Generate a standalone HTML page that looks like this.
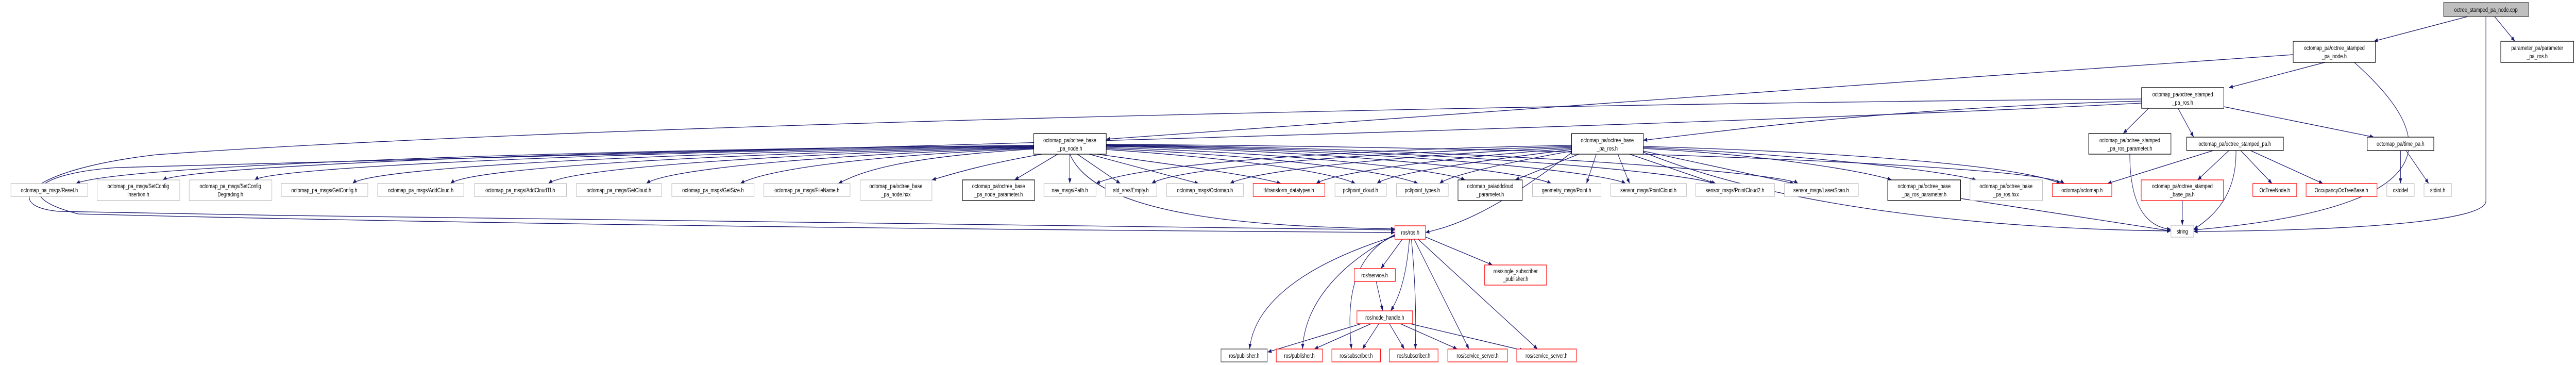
<!DOCTYPE html>
<html><head><meta charset="utf-8"><style>
html,body{margin:0;padding:0;background:#fff;width:100%;height:100%;overflow:hidden;}
svg{display:block;width:100vw;height:100vh;}
text{font-family:"Liberation Sans",sans-serif;font-size:12px;fill:#000;text-anchor:middle;}
.e{fill:none;stroke:#191970;stroke-width:1.3;marker-end:url(#a);}
.g{fill:#fff;stroke:#bfbfbf;stroke-width:1.3;}
.b{fill:#fff;stroke:#000;stroke-width:1.3;}
.r{fill:#fff;stroke:#ff0000;stroke-width:1.3;}
.d{fill:#fff;stroke:#404040;stroke-width:1.3;}
</style></head><body>
<svg viewBox="0 0 6576 708" preserveAspectRatio="none" xmlns="http://www.w3.org/2000/svg" overflow="hidden">
<defs><marker id="a" markerUnits="userSpaceOnUse" markerWidth="10" markerHeight="8" refX="10" refY="4" orient="auto"><path d="M0,0 L10,4 L0,8 z" fill="#191970"/></marker></defs>

<g>
<path class="e" d="M6300 32 L6060 80"/>
<path class="e" d="M6368 32 L6420 80"/>
<path class="e" d="M6346 32 L6346 390 C6346 430 6000 447 5600 449"/>
<path class="e" d="M5935 121 L5690 170"/>
<path class="e" d="M6010 121 C6200 250 6300 400 5600 446"/>
<path class="e" d="M5854 106 C4800 160 3600 230 2824 270"/>
<path class="e" d="M5485 210 L5420 259"/>
<path class="e" d="M5560 210 L5600 266"/>
<path class="e" d="M5677 207 L6060 266"/>
<path class="e" d="M5467 196 C4800 210 4400 255 4195 272"/>
<path class="e" d="M5467 192 C4000 200 1500 240 400 300 C60 330 5 400 150 410 C1500 430 3000 442 3561 446"/>
<path class="e" d="M5467 200 C4200 250 1500 300 300 325 C100 335 20 380 200 415 C1500 440 3000 448 3561 451"/>
<path class="e" d="M2639 282 C1500 290 300 320 194 356"/>
<path class="e" d="M2639 282 C1600 290 500 320 415 349"/>
<path class="e" d="M2639 283 C1700 292 700 322 650 349"/>
<path class="e" d="M2639 284 C1800 294 950 322 900 356"/>
<path class="e" d="M2639 285 C1900 296 1200 324 1150 356"/>
<path class="e" d="M2639 286 C2000 298 1450 326 1400 356"/>
<path class="e" d="M2639 287 C2100 300 1700 328 1650 356"/>
<path class="e" d="M2639 288 C2200 302 1950 330 1890 356"/>
<path class="e" d="M2639 289 C2300 305 2200 332 2140 356"/>
<path class="e" d="M2660 299 C2500 320 2420 340 2379 349"/>
<path class="e" d="M2700 299 L2590 349"/>
<path class="e" d="M2731 299 L2731 356"/>
<path class="e" d="M2750 299 L2860 356"/>
<path class="e" d="M2780 299 L3060 356"/>
<path class="e" d="M2800 299 C3000 320 3200 340 3270 356"/>
<path class="e" d="M2824 290 C3200 310 3400 335 3460 356"/>
<path class="e" d="M2824 288 C3300 305 3550 335 3620 356"/>
<path class="e" d="M2824 286 C3400 300 3700 335 3740 349"/>
<path class="e" d="M2824 284 C3500 295 3900 335 3960 356"/>
<path class="e" d="M2824 283 C3600 292 4100 335 4150 356"/>
<path class="e" d="M2824 282 C3700 290 4300 335 4375 356"/>
<path class="e" d="M2824 281 C3800 288 4550 335 4590 356"/>
<path class="e" d="M2824 280 C4000 285 5200 320 5270 356"/>
<path class="e" d="M2731 299 C2800 420 3200 440 3561 444"/>
<path class="e" d="M4012 282 C3400 290 2900 320 2798 356"/>
<path class="e" d="M4012 284 C3500 295 3000 325 2940 356"/>
<path class="e" d="M4012 286 C3600 300 3200 330 3140 356"/>
<path class="e" d="M4012 288 C3700 305 3400 335 3360 356"/>
<path class="e" d="M4012 290 C3800 310 3550 335 3515 356"/>
<path class="e" d="M4012 293 C3850 315 3700 340 3675 356"/>
<path class="e" d="M4030 299 L3868 349"/>
<path class="e" d="M4075 299 L4050 356"/>
<path class="e" d="M4130 299 L4160 356"/>
<path class="e" d="M4160 299 L4380 356"/>
<path class="e" d="M4195 293 L4580 356"/>
<path class="e" d="M4195 288 C4500 300 4750 330 4829 349"/>
<path class="e" d="M4195 286 C4600 300 4950 330 5045 349"/>
<path class="e" d="M4195 284 C4700 295 5150 320 5260 356"/>
<path class="e" d="M4012 296 C3800 420 3700 440 3639 451"/>
<path class="e" d="M4195 295 C4600 420 5200 445 5542 448"/>
<path class="e" d="M5005 385 L5542 448"/>
<path class="e" d="M5437 299 C5437 400 5480 440 5542 445"/>
<path class="e" d="M5650 292 L5380 356"/>
<path class="e" d="M5690 292 L5610 349"/>
<path class="e" d="M5708 292 C5710 380 5650 420 5600 445"/>
<path class="e" d="M5720 292 L5800 356"/>
<path class="e" d="M5745 292 L5930 356"/>
<path class="e" d="M5571 389 L5571 437"/>
<path class="e" d="M6128 292 L6128 356"/>
<path class="e" d="M6142 292 L6200 356"/>
<path class="e" d="M3580 464 L3525 521"/>
<path class="e" d="M3640 460 L3810 514"/>
<path class="e" d="M3598 464 C3590 540 3570 580 3550 603"/>
<path class="e" d="M3561 458 C3300 520 3200 600 3190 677"/>
<path class="e" d="M3561 456 C3400 520 3330 600 3325 677"/>
<path class="e" d="M3561 455 C3440 500 3440 600 3450 677"/>
<path class="e" d="M3603 464 C3615 560 3615 630 3613 677"/>
<path class="e" d="M3610 464 L3750 677"/>
<path class="e" d="M3620 464 L3925 677"/>
<path class="e" d="M3513 546 L3530 603"/>
<path class="e" d="M3475 628 L3236 683"/>
<path class="e" d="M3500 628 L3355 677"/>
<path class="e" d="M3520 628 L3478 677"/>
<path class="e" d="M3547 628 L3585 677"/>
<path class="e" d="M3575 628 L3720 677"/>
<path class="e" d="M3600 628 L3890 680"/>
</g>

<g>
<rect x="6238" y="5" width="217" height="27" fill="#bfbfbf" stroke="#404040" stroke-width="1.3"/><text x="6346" y="23">octree_stamped_pa_node.cpp</text>
<rect class="b" x="5854" y="80" width="210" height="41"/><text x="5959" y="97">octomap_pa/octree_stamped</text><text x="5959" y="113">_pa_node.h</text>
<rect class="b" x="6384" y="80" width="186" height="41"/><text x="6477" y="97">parameter_pa/parameter</text><text x="6477" y="113">_pa_ros.h</text>
<rect class="b" x="5467" y="170" width="210" height="40"/><text x="5572" y="187">octomap_pa/octree_stamped</text><text x="5572" y="203">_pa_ros.h</text>
<rect class="b" x="2639" y="259" width="185" height="40"/><text x="2731" y="276">octomap_pa/octree_base</text><text x="2731" y="292">_pa_node.h</text>
<rect class="b" x="4012" y="259" width="183" height="40"/><text x="4103" y="276">octomap_pa/octree_base</text><text x="4103" y="292">_pa_ros.h</text>
<rect class="b" x="5332" y="259" width="210" height="40"/><text x="5437" y="276">octomap_pa/octree_stamped</text><text x="5437" y="292">_pa_ros_parameter.h</text>
<rect class="b" x="5582" y="266" width="247" height="26"/><text x="5705" y="283">octomap_pa/octree_stamped_pa.h</text>
<rect class="b" x="6043" y="266" width="170" height="26"/><text x="6128" y="283">octomap_pa/time_pa.h</text>

<rect class="g" x="28" y="356" width="196" height="25"/><text x="126" y="373">octomap_pa_msgs/Reset.h</text>
<rect class="g" x="248" y="349" width="211" height="40"/><text x="353" y="365">octomap_pa_msgs/SetConfig</text><text x="353" y="381">Insertion.h</text>
<rect class="g" x="483" y="349" width="211" height="40"/><text x="588" y="365">octomap_pa_msgs/SetConfig</text><text x="588" y="381">Degrading.h</text>
<rect class="g" x="718" y="356" width="221" height="25"/><text x="828" y="373">octomap_pa_msgs/GetConfig.h</text>
<rect class="g" x="964" y="356" width="220" height="25"/><text x="1074" y="373">octomap_pa_msgs/AddCloud.h</text>
<rect class="g" x="1211" y="356" width="235" height="25"/><text x="1328" y="373">octomap_pa_msgs/AddCloudTf.h</text>
<rect class="g" x="1471" y="356" width="218" height="25"/><text x="1580" y="373">octomap_pa_msgs/GetCloud.h</text>
<rect class="g" x="1715" y="356" width="210" height="25"/><text x="1820" y="373">octomap_pa_msgs/GetSize.h</text>
<rect class="g" x="1950" y="356" width="220" height="25"/><text x="2060" y="373">octomap_pa_msgs/FileName.h</text>
<rect class="g" x="2196" y="349" width="183" height="40"/><text x="2287" y="365">octomap_pa/octree_base</text><text x="2287" y="381">_pa_node.hxx</text>
<rect class="b" x="2457" y="349" width="184" height="40"/><text x="2549" y="365">octomap_pa/octree_base</text><text x="2549" y="381">_pa_node_parameter.h</text>
<rect class="g" x="2665" y="356" width="133" height="25"/><text x="2731" y="373">nav_msgs/Path.h</text>
<rect class="g" x="2822" y="356" width="131" height="25"/><text x="2887" y="373">std_srvs/Empty.h</text>
<rect class="g" x="2978" y="356" width="196" height="25"/><text x="3076" y="373">octomap_msgs/Octomap.h</text>
<rect class="r" x="3199" y="356" width="183" height="25"/><text x="3290" y="373">tf/transform_datatypes.h</text>
<rect class="g" x="3408" y="356" width="131" height="25"/><text x="3473" y="373">pcl/point_cloud.h</text>
<rect class="g" x="3565" y="356" width="132" height="25"/><text x="3631" y="373">pcl/point_types.h</text>
<rect class="b" x="3722" y="349" width="164" height="40"/><text x="3804" y="365">octomap_pa/addcloud</text><text x="3804" y="381">_parameter.h</text>
<rect class="g" x="3912" y="356" width="175" height="25"/><text x="3999" y="373">geometry_msgs/Point.h</text>
<rect class="g" x="4112" y="356" width="193" height="25"/><text x="4208" y="373">sensor_msgs/PointCloud.h</text>
<rect class="g" x="4329" y="356" width="201" height="25"/><text x="4429" y="373">sensor_msgs/PointCloud2.h</text>
<rect class="g" x="4555" y="356" width="189" height="25"/><text x="4649" y="373">sensor_msgs/LaserScan.h</text>
<rect class="b" x="4819" y="349" width="186" height="40"/><text x="4912" y="365">octomap_pa/octree_base</text><text x="4912" y="381">_pa_ros_parameter.h</text>
<rect class="g" x="5029" y="349" width="185" height="40"/><text x="5121" y="365">octomap_pa/octree_base</text><text x="5121" y="381">_pa_ros.hxx</text>
<rect class="r" x="5239" y="356" width="152" height="25"/><text x="5315" y="373">octomap/octomap.h</text>
<rect class="r" x="5466" y="349" width="210" height="40"/><text x="5571" y="365">octomap_pa/octree_stamped</text><text x="5571" y="381">_base_pa.h</text>
<rect class="r" x="5751" y="356" width="112" height="25"/><text x="5807" y="373">OcTreeNode.h</text>
<rect class="r" x="5887" y="356" width="181" height="25"/><text x="5977" y="373">OccupancyOcTreeBase.h</text>
<rect class="g" x="6093" y="356" width="70" height="25"/><text x="6128" y="373">cstddef</text>
<rect class="g" x="6188" y="356" width="70" height="25"/><text x="6223" y="373">stdint.h</text>

<rect class="r" x="3561" y="438" width="78" height="26"/><text x="3600" y="455">ros/ros.h</text>
<rect class="g" x="5542" y="437" width="58" height="23"/><text x="5571" y="453">string</text>
<rect class="r" x="3457" y="521" width="105" height="25"/><text x="3509" y="538">ros/service.h</text>
<rect class="r" x="3790" y="514" width="158" height="39"/><text x="3869" y="530">ros/single_subscriber</text><text x="3869" y="545">_publisher.h</text>
<rect class="r" x="3464" y="603" width="142" height="25"/><text x="3535" y="620">ros/node_handle.h</text>
<rect class="d" x="3117" y="677" width="118" height="25"/><text x="3176" y="694">ros/publisher.h</text>
<rect class="r" x="3258" y="677" width="118" height="25"/><text x="3317" y="694">ros/publisher.h</text>
<rect class="r" x="3400" y="677" width="124" height="25"/><text x="3462" y="694">ros/subscriber.h</text>
<rect class="r" x="3547" y="677" width="124" height="25"/><text x="3609" y="694">ros/subscriber.h</text>
<rect class="r" x="3696" y="677" width="152" height="25"/><text x="3772" y="694">ros/service_server.h</text>
<rect class="r" x="3872" y="677" width="152" height="25"/><text x="3948" y="694">ros/service_server.h</text>
</g>
</svg>
</body></html>
